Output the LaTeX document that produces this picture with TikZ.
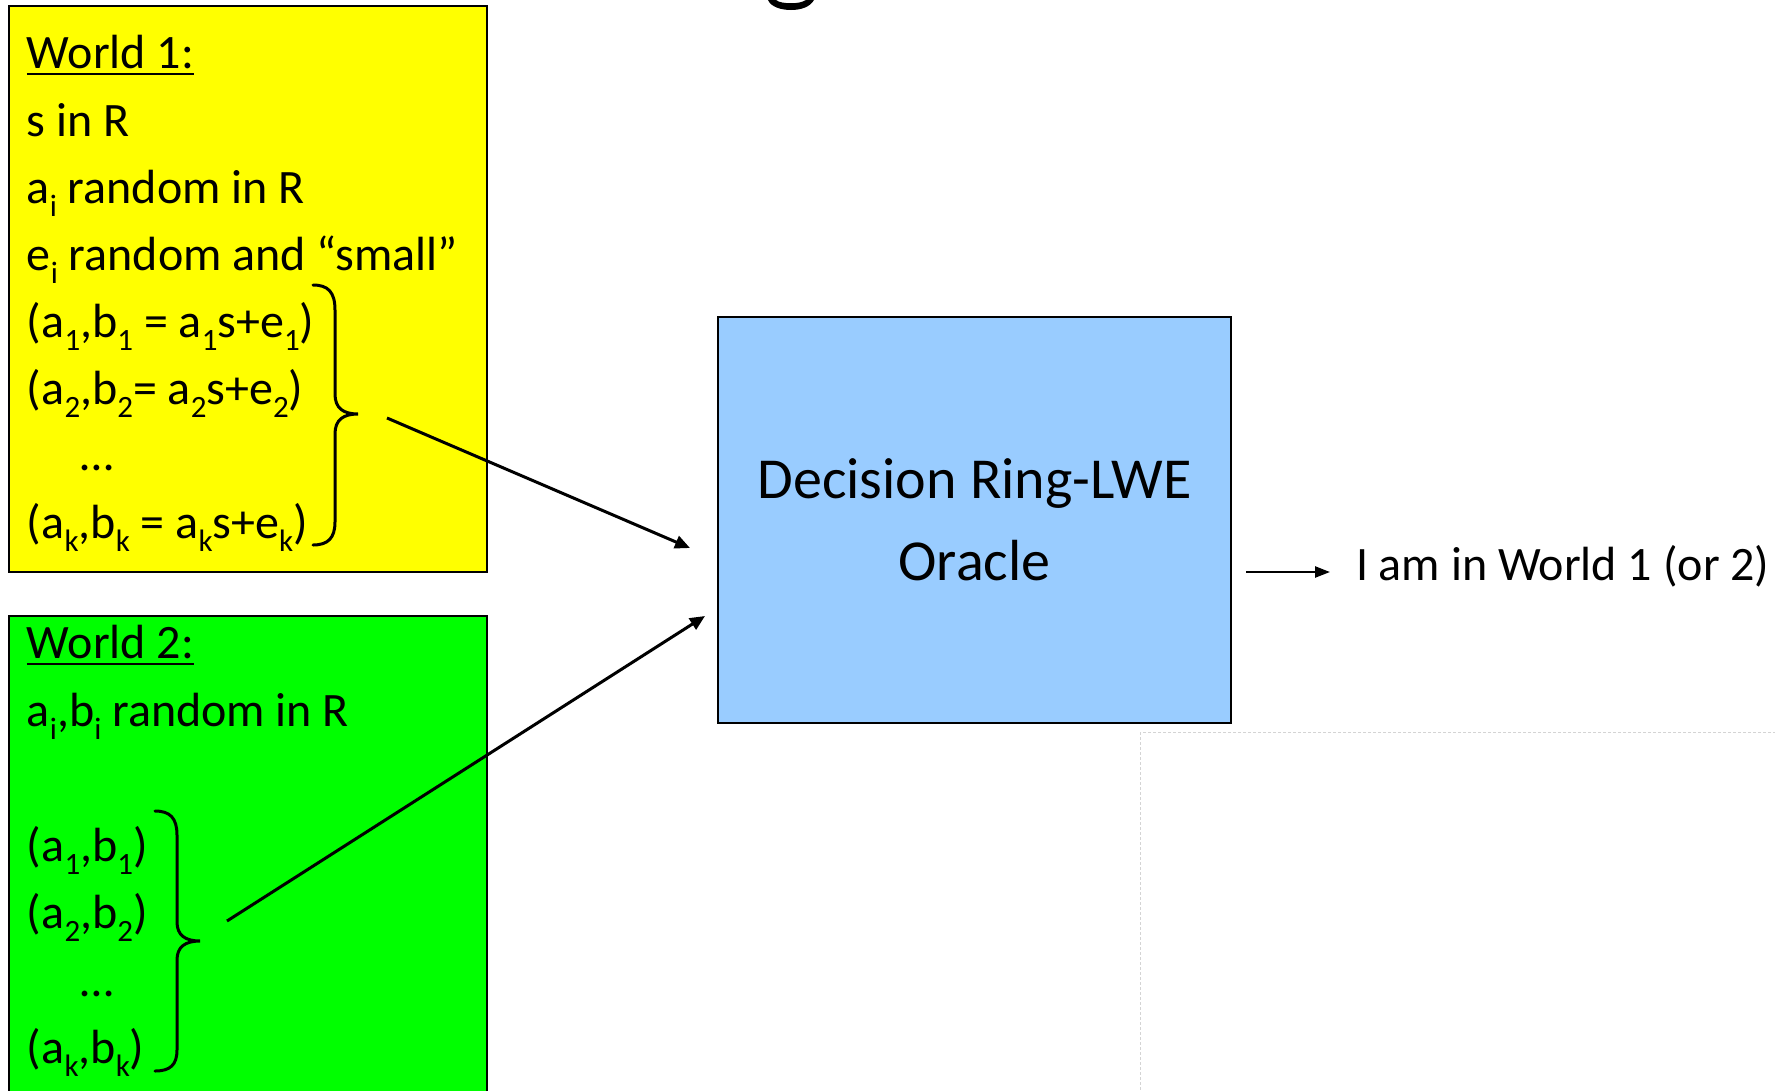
\documentclass[tikz,border=0pt]{standalone}
\usepackage{fontspec}
\setmainfont{Carlito}
\usetikzlibrary{arrows.meta}

\definecolor{worldone}{HTML}{FFFF00}
\definecolor{worldtwo}{HTML}{00FF00}
\definecolor{oraclefill}{HTML}{99CCFF}
\definecolor{guideline}{HTML}{D4D4D4}

% lowered, smaller index as in a_i, b_1 ...
\newcommand\lo[1]{\raisebox{-0.29em}{\fontsize{31}{32}\selectfont #1}}
% underlined heading word
\newsavebox\ulbox
\newcommand\ulword[1]{\sbox\ulbox{#1}\rlap{\rule[-0.155em]{\wd\ulbox}{0.055em}}\usebox\ulbox}

\begin{document}
\begin{tikzpicture}[x=1pt,y=-1pt,
  every node/.style={inner sep=0pt, outer sep=0pt},
  body/.style={font=\fontsize{48}{57}\selectfont, anchor=base west},
  panel/.style={draw=black, line width=1.8pt, anchor=north west},
  feed/.style={-{Triangle[length=15pt,width=13pt]}, line width=3pt},
  answer/.style={-{Triangle[length=15pt,width=11pt]}, line width=2.4pt},
  brace/.style={line width=3pt, line cap=round}]
\useasboundingbox (0,0) rectangle (1775,1090);
\clip (0,0) rectangle (1775,1090);

% tail of the slide heading's letter, just reaching the top edge
\fill (768,0) .. controls (771,7) and (781,10) .. (791,10)
  .. controls (801,10) and (810,7) .. (814,0)
  -- (806,0) .. controls (802,2.5) and (797,3.2) .. (791,3.2)
  .. controls (785,3.2) and (779,2.5) .. (776,0) -- cycle;

% ---------- World 1 ----------
\node[panel, fill=worldone, minimum width=478pt, minimum height=566pt] (world1) at (9,6) {};
\node[body] (w1title) at (27,68)  {\ulword{World 1:}};
\node[body] (w1s)     at (27,136) {s in R};
\node[body] (w1a)     at (27,203) {a\lo{i} random in R};
\node[body] (w1e)     at (27,270) {e\lo{i} random and “small”};
\node[body] (w1p1)    at (27,337) {(a\lo{1},b\lo{1} = a\lo{1}s+e\lo{1})};
\node[body] (w1p2)    at (27,404) {(a\lo{2},b\lo{2}= a\lo{2}s+e\lo{2})};
\node[body] (w1dots)  at (80,470) {…};
\node[body] (w1pk)    at (27,538) {(a\lo{k},b\lo{k} = a\lo{k}s+e\lo{k})};
\draw[brace] (313,285) .. controls (328,285) and (335,292) .. (335,310)
  -- (335,394) .. controls (335,408) and (343,414) .. (358,414)
  .. controls (343,414) and (335,420) .. (335,434)
  -- (335,522) .. controls (335,538) and (328,545) .. (313,545);
\coordinate (feed1) at (387,418);

% ---------- World 2 ----------
\node[panel, fill=worldtwo, minimum width=478pt, minimum height=500pt] (world2) at (9,616) {};
\node[body] (w2title) at (27,658)  {\ulword{World 2:}};
\node[body] (w2ab)    at (27,726)  {a\lo{i},b\lo{i} random in R};
\node[body] (w2p1)    at (27,861)  {(a\lo{1},b\lo{1})};
\node[body] (w2p2)    at (27,928)  {(a\lo{2},b\lo{2})};
\node[body] (w2dots)  at (80,996)  {…};
\node[body] (w2pk)    at (27,1063) {(a\lo{k},b\lo{k})};
\draw[brace] (155,811) .. controls (170,811) and (177,818) .. (177,835)
  -- (177,922) .. controls (177,935) and (185,941) .. (200,941)
  .. controls (185,941) and (177,947) .. (177,960)
  -- (177,1050) .. controls (177,1065) and (170,1071) .. (155,1071);
\coordinate (feed2) at (227,921);

% ---------- oracle ----------
\node[draw=black, line width=1.8pt, fill=oraclefill, minimum width=513pt,
  minimum height=406pt, align=center, font=\fontsize{58}{82}\selectfont]
  (oracle) at (974.5,520) {Decision Ring-LWE\\Oracle};
\coordinate (in1) at (690,548);
\coordinate (in2) at (705,616);
\draw[feed] (feed1) -- (in1);
\draw[feed] (feed2) -- (in2);

% ---------- answer ----------
\node[body] (verdict) at (1356,580) {I am in World 1 (or 2)};
\coordinate (out0) at (1246,572);
\coordinate (out1) at (1330,572);
\draw[answer] (out0) -- (out1);

% empty placeholder frame
\draw[guideline, dash pattern=on 3pt off 2pt, line width=1pt] (1140,732) rectangle (1790,1100);
\end{tikzpicture}
\end{document}
